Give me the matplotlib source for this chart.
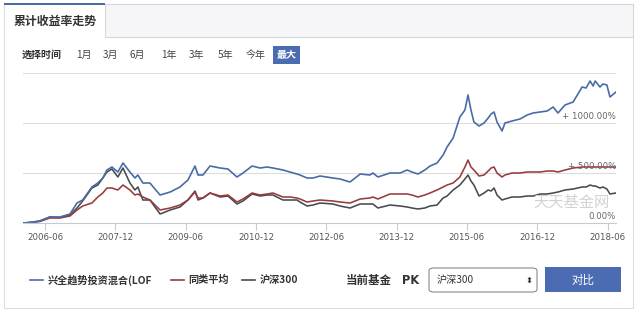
import pandas as pd
import matplotlib.pyplot as plt
from matplotlib.patches import Rectangle, FancyBboxPatch

plt.rcParams['font.family'] = ['Noto Sans CJK SC', 'DejaVu Sans']

W, H = 640, 316

# data (cumulative return, %)
dates = [
    "2005-12-12", "2006-02-05", "2006-04-22", "2006-07-09", "2006-09-26", "2006-12-13",
    "2007-02-06", "2007-03-22", "2007-06-02", "2007-07-18", "2007-08-26", "2007-09-27",
    "2007-11-05", "2007-12-21", "2008-01-30", "2008-03-24", "2008-05-02", "2008-05-25",
    "2008-07-03", "2008-08-27", "2008-10-05", "2008-11-14", "2009-02-01", "2009-04-18",
    "2009-06-19", "2009-08-13", "2009-09-06", "2009-10-14", "2009-12-08", "2010-02-25",
    "2010-04-27", "2010-07-06", "2010-08-22", "2010-11-01", "2011-01-02", "2011-02-26",
    "2011-04-12", "2011-06-29", "2011-08-23", "2011-10-16", "2011-11-09", "2012-01-03",
    "2012-02-19", "2012-04-13", "2012-07-23", "2012-09-16", "2012-12-03", "2013-02-20",
    "2013-05-07", "2013-05-30", "2013-07-08", "2013-10-10", "2013-12-28", "2014-02-21",
    "2014-03-30", "2014-05-16", "2014-07-09", "2014-08-18", "2014-10-12", "2014-11-28",
    "2014-12-29", "2015-02-14", "2015-04-08", "2015-05-17", "2015-06-10", "2015-07-03",
    "2015-07-26", "2015-09-04", "2015-10-13", "2015-11-14", "2015-12-07", "2015-12-30",
    "2016-01-22", "2016-03-01", "2016-03-24", "2016-05-18", "2016-07-19", "2016-09-13",
    "2016-10-30", "2016-12-23", "2017-02-16", "2017-04-03", "2017-05-11", "2017-07-05",
    "2017-09-06", "2017-11-15", "2017-12-16", "2018-01-16", "2018-02-09", "2018-02-25",
    "2018-04-03", "2018-04-27", "2018-05-27", "2018-06-20", "2018-08-06",
]
fund = [
    0, 5, 20, 60, 60, 90, 200, 230, 360, 400, 450, 530,
    560, 510, 600, 510, 450, 480, 400, 400, 340, 280, 310, 360,
    430, 570, 480, 480, 570, 550, 540, 460, 500, 570, 550, 560,
    550, 530, 510, 490, 480, 450, 450, 470, 450, 440, 410, 490,
    480, 500, 460, 500, 500, 530, 510, 490, 530, 570, 600, 680,
    760, 850, 1060, 1130, 1280, 1130, 1010, 970, 1000, 1050, 1090, 1110,
    1010, 920, 1000, 1020, 1040, 1080, 1100, 1110, 1120, 1160, 1100, 1180,
    1210, 1360, 1350, 1420, 1370, 1420, 1360, 1390, 1380, 1260, 1310,
]
peer_avg = [
    0, 5, 15, 50, 50, 70, 130, 170, 200, 260, 300, 350,
    350, 330, 380, 330, 280, 290, 260, 230, 180, 130, 150, 180,
    230, 310, 250, 250, 300, 270, 280, 210, 240, 300, 280, 290,
    300, 260, 260, 250, 240, 210, 220, 230, 220, 210, 200, 240,
    250, 260, 240, 290, 290, 290, 280, 260, 280, 300, 330, 360,
    380, 400, 460, 560, 630, 560, 530, 470, 480, 520, 550, 560,
    500, 460, 480, 500, 500, 510, 510, 510, 520, 520, 510, 530,
    550, 560, 560, 560, 560, 560, 560, 560, 560, 560, 560,
]
hs300 = [
    0, 5, 20, 60, 55, 80, 150, 220, 350, 380, 450, 510,
    540, 460, 550, 400, 330, 360, 230, 230, 160, 90, 130, 160,
    230, 320, 230, 250, 300, 260, 270, 190, 220, 290, 270, 280,
    280, 230, 230, 230, 210, 170, 180, 200, 190, 170, 150, 190,
    190, 190, 150, 180, 170, 160, 150, 140, 150, 170, 180, 250,
    270, 330, 380, 440, 480, 420, 380, 270, 300, 330, 320, 350,
    280, 230, 240, 260, 260, 270, 270, 290, 290, 300, 310, 330,
    340, 360, 360, 380, 370, 370, 350, 360, 340, 290, 300,
]
tick_dates = ["2006-06", "2007-12", "2009-06", "2010-12", "2012-06",
              "2013-12", "2015-06", "2016-12", "2018-06"]
grid_vals = [500, 1000, 1500]
y_labels = {0: "0.00%", 500: "+ 500.00%", 1000: "+ 1000.00%"}
series_names = ["兴全趋势投资混合(LOF", "同类平均", "沪深300"]
period_labels = ["1月", "3月", "6月", "1年", "3年", "5年", "今年"]

BLUE = "#4a6ca6"
RED = "#993a3c"
GREY = "#474a4f"
BTN = "#4b6cb3"

df = pd.DataFrame({"date": pd.to_datetime(dates), "fund": fund,
                   "peer": peer_avg, "hs300": hs300})


def fx(px):
    return px / W


def fy(py):
    return 1 - py / H


fig = plt.figure(figsize=(6.4, 3.16), dpi=100)
fig.patch.set_facecolor("white")

# outer frame and tab header
fig.add_artist(Rectangle((fx(4), fy(308)), fx(629), 304 / H, transform=fig.transFigure,
                         fill=False, ec="#dddddd", lw=0.8))
fig.add_artist(Rectangle((fx(105), fy(37)), fx(528), 33 / H, transform=fig.transFigure,
                         fc="#f6f6f8", ec="#d8d8d8", lw=0.8))
fig.add_artist(Rectangle((fx(4), fy(5)), fx(101), 2 / H, transform=fig.transFigure,
                         fc="#4a6ca6", ec="none"))
fig.text(fx(14), fy(21), "累计收益率走势", fontsize=8.6, fontweight="bold",
         color="#333333", va="center")

# period selector
fig.text(fx(22), fy(55), "选择时间", fontsize=7.2, fontweight="bold", color="#333333", va="center")
period_x = [76, 103, 130, 161, 189, 218, 246]
for lab, px in zip(period_labels, period_x):
    fig.text(fx(px), fy(55), lab, fontsize=7.2, color="#444444", va="center")
fig.add_artist(Rectangle((fx(273), fy(64)), fx(27), 18 / H, transform=fig.transFigure,
                         fc=BTN, ec="none"))
fig.text(fx(286.5), fy(55), "最大", fontsize=7.2, fontweight="bold", color="white",
         va="center", ha="center")

# chart
ax = fig.add_axes([fx(23), fy(223), fx(593), 150 / H])
ax.plot(df["date"], df["hs300"], color=GREY, lw=1.15)
ax.plot(df["date"], df["peer"], color=RED, lw=1.15)
ax.plot(df["date"], df["fund"], color=BLUE, lw=1.2)
ax.set_xlim(df["date"].iloc[0], df["date"].iloc[-1])
ax.set_ylim(0, 1500)
for g in grid_vals:
    ax.axhline(g, color="#dcdcdc", lw=0.8, zorder=0)
for sp in ["top", "right", "left"]:
    ax.spines[sp].set_visible(False)
ax.spines["bottom"].set_color("#c3cbd6")
ax.set_yticks([])
ax.set_xticks(pd.to_datetime(tick_dates))
ax.set_xticklabels(tick_dates, fontsize=6.2, color="#555555", family="DejaVu Sans")
ax.tick_params(axis="x", length=5, color="#c3cbd6", pad=2)
for v, lab in y_labels.items():
    ax.text(1.0, v + 18, lab, transform=ax.get_yaxis_transform(), ha="right", va="bottom",
            fontsize=6.2, color="#666666", family="DejaVu Sans")
ax.text(0.925, 210, "天天基金网", transform=ax.get_yaxis_transform(), ha="center",
        va="center", fontsize=11, color="#d2d2d2")

# legend row
legend_items = [(30, 48, BLUE), (171, 188, RED), (242, 260, GREY)]
for name, (lx, tx, c) in zip(series_names, legend_items):
    fig.add_artist(plt.Line2D([fx(lx), fx(lx + 13)], [fy(280), fy(280)],
                              transform=fig.transFigure, color=c, lw=1.2))
    fig.text(fx(tx), fy(280), name, fontsize=7.3, fontweight="bold", color="#333333",
             va="center")

fig.text(fx(346), fy(280), "当前基金", fontsize=8.3, fontweight="bold", color="#333333",
         va="center")
fig.text(fx(402), fy(280), "PK", fontsize=8.3, fontweight="bold", color="#333333",
         va="center", family="DejaVu Sans")
fig.add_artist(FancyBboxPatch((fx(429), fy(292)), fx(108), 24 / H,
                              boxstyle="round,pad=0,rounding_size=0.008",
                              transform=fig.transFigure, fc="white", ec="#8a8a8a", lw=0.8))
fig.text(fx(437), fy(280), "沪深300", fontsize=7.3, color="#333333", va="center")
fig.text(fx(529), fy(280), "⬍", fontsize=6, color="#333333", va="center", ha="center",
         family="DejaVu Sans")
fig.add_artist(Rectangle((fx(545), fy(292)), fx(76), 25 / H, transform=fig.transFigure,
                         fc=BTN, ec="none"))
fig.text(fx(583), fy(280), "对比", fontsize=8.3, color="white", va="center", ha="center")

fig.savefig("out.png", dpi=100)
